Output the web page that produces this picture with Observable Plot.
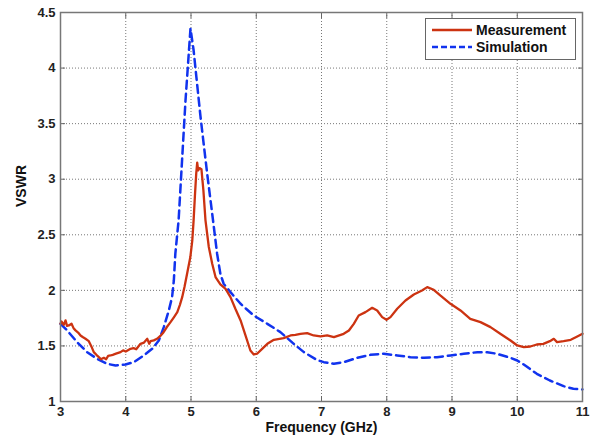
<!DOCTYPE html>
<html>
<head>
<meta charset="utf-8">
<script src="https://cdn.jsdelivr.net/npm/d3@7"></script>
<script src="https://cdn.jsdelivr.net/npm/@observablehq/plot@0.6"></script>
<style>
  html, body { margin: 0; padding: 0; background: #fff; }
  #wrap { position: relative; width: 593px; height: 442px; }
  #legend { position: absolute; left: 425px; top: 18px; width: 151px; height: 42px; border: 1px solid #666; background: #fff; box-sizing: border-box; font-family: "Liberation Sans", Arial, sans-serif; font-weight: bold; font-size: 14px; color: #111; }
  #legend .row { position: absolute; left: 6px; height: 16px; display: flex; align-items: center; }
  #legend svg { margin-right: 4px; }
</style>
</head>
<body>
<div id="wrap"></div>
<script>
const measFreq = [3.00,3.015,3.05,3.077,3.10,3.128,3.169,3.20,3.23,3.27,3.307,3.34,3.383,3.434,3.47,3.51,3.55,3.587,3.62,3.664,3.70,3.73,3.766,3.80,3.85,3.92,3.96,4.00,4.073,4.12,4.16,4.226,4.28,4.33,4.36,4.38,4.43,4.48,4.53,4.58,4.63,4.686,4.74,4.79,4.83,4.865,4.90,4.94,4.99,5.02,5.04,5.06,5.08,5.095,5.11,5.13,5.16,5.19,5.222,5.273,5.325,5.376,5.45,5.53,5.605,5.68,5.76,5.835,5.91,5.962,6.013,6.09,6.17,6.27,6.42,6.525,6.60,6.678,6.78,6.88,6.985,7.087,7.19,7.34,7.42,7.495,7.57,7.674,7.777,7.853,7.93,7.996,8.057,8.16,8.287,8.415,8.54,8.62,8.72,8.82,8.977,9.13,9.28,9.437,9.59,9.74,9.897,10.0,10.1,10.2,10.3,10.4,10.5,10.56,10.61,10.71,10.82,10.92,11.0];
const measVswr = [1.70,1.72,1.69,1.73,1.68,1.684,1.70,1.66,1.64,1.62,1.594,1.58,1.564,1.543,1.50,1.444,1.42,1.40,1.38,1.393,1.38,1.41,1.414,1.42,1.43,1.444,1.46,1.45,1.474,1.48,1.47,1.519,1.53,1.564,1.52,1.543,1.55,1.564,1.59,1.624,1.67,1.714,1.76,1.804,1.87,1.939,2.03,2.149,2.30,2.45,2.63,2.85,3.05,3.15,3.08,3.10,3.09,2.90,2.63,2.39,2.24,2.12,2.053,2.014,1.939,1.834,1.729,1.594,1.459,1.423,1.43,1.474,1.519,1.555,1.57,1.594,1.60,1.609,1.615,1.594,1.585,1.594,1.579,1.609,1.639,1.699,1.774,1.804,1.843,1.819,1.759,1.735,1.759,1.834,1.909,1.963,1.999,2.029,2.005,1.954,1.879,1.819,1.744,1.714,1.669,1.609,1.549,1.504,1.489,1.495,1.513,1.519,1.543,1.564,1.534,1.543,1.555,1.585,1.609];

const simFreq = [3.00,3.102,3.255,3.408,3.562,3.715,3.843,3.996,4.123,4.277,4.405,4.507,4.583,4.66,4.71,4.737,4.76,4.81,4.916,4.992,5.04,5.146,5.248,5.325,5.35,5.40,5.45,5.50,5.605,5.76,5.96,6.17,6.37,6.575,6.73,6.93,7.035,7.19,7.34,7.547,7.75,7.955,8.16,8.364,8.57,8.77,8.977,9.18,9.39,9.54,9.69,9.897,10.0,10.1,10.3,10.5,10.71,10.86,11.0];
const simVswr = [1.699,1.639,1.534,1.444,1.384,1.339,1.324,1.333,1.354,1.414,1.474,1.549,1.669,1.819,1.939,2.089,2.33,2.63,3.71,4.355,4.16,3.56,3.05,2.69,2.57,2.33,2.149,2.06,1.984,1.879,1.774,1.699,1.624,1.519,1.444,1.374,1.354,1.339,1.354,1.393,1.42,1.429,1.414,1.399,1.393,1.399,1.414,1.429,1.444,1.444,1.429,1.393,1.369,1.333,1.249,1.189,1.138,1.114,1.108];

const xTicks = [3,4,5,6,7,8,9,10,11];
const yTicks = [1,1.5,2,2.5,3,3.5,4,4.5];
const yTickLabels = ["1","1.5","2","2.5","3","3.5","4","4.5"];

const meas = measFreq.map((f, i) => ({f, v: measVswr[i]}));
const sim = simFreq.map((f, i) => ({f, v: simVswr[i]}));

const RED = "#cc3311";
const BLUE = "#1133ee";

const chart = Plot.plot({
  width: 593,
  height: 442,
  marginLeft: 60,
  marginRight: 11,
  marginTop: 12,
  marginBottom: 41,
  style: { fontFamily: "'Liberation Sans', Arial, sans-serif", fontSize: "13px", fontWeight: "bold", color: "#222", background: "#fff" },
  x: { domain: [3, 11] },
  y: { domain: [1, 4.5] },
  marks: [
    Plot.gridX(xTicks, { stroke: "#777", strokeOpacity: 1, strokeDasharray: "1,2" }),
    Plot.gridY(yTicks, { stroke: "#777", strokeOpacity: 1, strokeDasharray: "1,2" }),
    Plot.axisX(xTicks, { tickSize: 0, tickPadding: 5, label: null, fill: "#222" }),
    Plot.axisY(yTicks, { tickSize: 0, tickPadding: 5, label: null, fill: "#222", tickFormat: (d, i) => yTickLabels[i] }),
    Plot.axisX(xTicks, { anchor: "bottom", tickSize: -5, tickFormat: () => "", label: null, stroke: "#666" }),
    Plot.axisX(xTicks, { anchor: "top", tickSize: -5, tickFormat: () => "", label: null, stroke: "#666" }),
    Plot.axisY(yTicks, { anchor: "left", tickSize: -5, tickFormat: () => "", label: null, stroke: "#666" }),
    Plot.axisY(yTicks, { anchor: "right", tickSize: -5, tickFormat: () => "", label: null, stroke: "#666" }),
    Plot.line(sim, { x: "f", y: "v", stroke: BLUE, strokeWidth: 2.5, strokeDasharray: "8,5" }),
    Plot.line(meas, { x: "f", y: "v", stroke: RED, strokeWidth: 2.3 }),
    Plot.frame({ stroke: "#777", strokeWidth: 1.5 }),
    Plot.text(["Frequency (GHz)"], { frameAnchor: "bottom", dy: 30, fontSize: 14, fontWeight: "bold", fill: "#111" }),
    Plot.text(["VSWR"], { frameAnchor: "left", dx: -39, rotate: -90, fontSize: 14, fontWeight: "bold", fill: "#111" })
  ]
});

const wrap = document.getElementById("wrap");
wrap.appendChild(chart);

const legendItems = [
  { label: "Measurement", color: RED, dash: null },
  { label: "Simulation", color: BLUE, dash: "6,3" }
];
const legend = document.createElement("div");
legend.id = "legend";
legendItems.forEach((it, i) => {
  const row = document.createElement("div");
  row.className = "row";
  row.style.top = (3 + i * 17) + "px";
  row.innerHTML = `<svg width="40" height="6"><line x1="0" y1="3" x2="40" y2="3" stroke="${it.color}" stroke-width="2.5" ${it.dash ? `stroke-dasharray="${it.dash}"` : ""}/></svg><span>${it.label}</span>`;
  legend.appendChild(row);
});
wrap.appendChild(legend);
</script>
</body>
</html>
